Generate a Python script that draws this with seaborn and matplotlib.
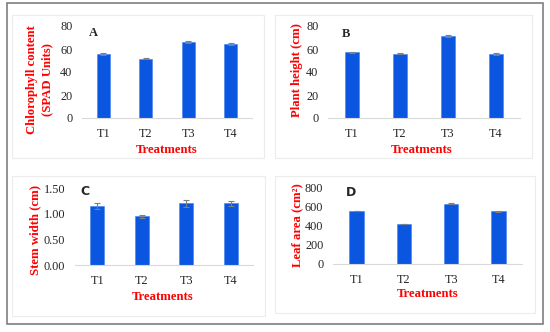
import pandas as pd
import numpy as np
import matplotlib.pyplot as plt
import seaborn as sns
from matplotlib.patches import Rectangle

# 数据
treatments = ['T1', 'T2', 'T3', 'T4']
chlorophyll = [56.0, 51.5, 66.0, 64.5]
chlorophyll_err = [0.8, 0.6, 0.8, 0.7]
plant_height = [57.0, 56.0, 71.0, 55.5]
plant_height_err = [0.7, 0.5, 0.8, 0.8]
stem_width = [1.15, 0.95, 1.20, 1.20]
stem_width_err = [0.05, 0.03, 0.07, 0.05]
leaf_area = [550, 415, 625, 548]
leaf_area_err = [4, 4, 5, 4]

sns.set_style('white')
plt.rcParams['font.family'] = ['Liberation Serif', 'DejaVu Serif']

W, H = 550, 332
fig = plt.figure(figsize=(5.5, 3.32), dpi=100)

def px_axes(x0, y0, x1, y1):
    return fig.add_axes([x0 / W, 1 - y1 / H, (x1 - x0) / W, (y1 - y0) / H])

def px_rect(x0, y0, x1, y1, color, lw):
    fig.add_artist(Rectangle((x0 / W, 1 - y1 / H), (x1 - x0) / W, (y1 - y0) / H,
                             transform=fig.transFigure, fill=False,
                             edgecolor=color, linewidth=lw))

# 外框和子图框
px_rect(7, 3, 543, 324, '#7f7f7f', 1.2)
px_rect(12, 15, 264, 158, '#ececec', 0.8)
px_rect(275, 15, 532, 158, '#ececec', 0.8)
px_rect(12, 176, 265, 316, '#ececec', 0.8)
px_rect(275, 176, 535, 313, '#ececec', 0.8)

panels = [
    # values, err, ylabel, letter, axes px, ylim, step, fmt, letter pos, ylabel pos, xlabel pos
    (chlorophyll, chlorophyll_err, 'Chlorophyll content\n(SPAD Units)', 'A',
     (82, 26, 252, 118), 80, 20, '%d', (0.04, 0.92), (-0.25, 0.42), (0.5, -0.35)),
    (plant_height, plant_height_err, 'Plant height (cm)', 'B',
     (328, 26, 520, 118), 80, 20, '%d', (0.07, 0.91), (-0.16, 0.52), (0.49, -0.35)),
    (stem_width, stem_width_err, 'Stem width (cm)', 'C',
     (75, 188, 253, 265), 1.5, 0.5, '%.2f', (0.03, 0.96), (-0.225, 0.45), (0.49, -0.42)),
    (leaf_area, leaf_area_err, 'Leaf area (cm²)', 'D',
     (333, 187, 522, 264), 800, 200, '%d', (0.07, 0.93), (-0.19, 0.5), (0.5, -0.39)),
]

for vals, err, ylab, letter, box, ymax, step, fmt, lpos, ypos, xpos in panels:
    ax = px_axes(*box)
    df = pd.DataFrame({'Treatments': treatments, 'value': vals})
    sns.barplot(data=df, x='Treatments', y='value', color='#0A56E0', width=0.31,
                saturation=1, edgecolor='#3f7ff0', linewidth=0.4, ax=ax)
    ax.errorbar(np.arange(len(vals)), vals, yerr=err, fmt='none',
                ecolor='#7f7f7f', elinewidth=0.8, capsize=2, capthick=0.8)
    ax.set_ylim(0, ymax)
    ax.set_yticks(np.arange(0, ymax + step / 2, step))
    ax.yaxis.set_major_formatter(plt.FormatStrFormatter(fmt))
    ax.set_xlim(-0.5, 3.5)
    sns.despine(ax=ax, left=True)
    ax.spines['bottom'].set_color('#d9d9d9')
    ax.spines['bottom'].set_linewidth(0.8)
    ax.tick_params(axis='both', length=0, labelsize=8.8, pad=7)
    ax.set_xlabel('Treatments', color='#ff0000', fontweight='bold', fontsize=9.2)
    ax.set_ylabel(ylab, color='#ff0000', fontweight='bold', fontsize=9.2,
                  linespacing=1.35)
    ax.xaxis.label.set_va('center')
    ax.yaxis.label.set_va('center')
    ax.xaxis.set_label_coords(*xpos)
    ax.yaxis.set_label_coords(*ypos)
    ax.text(lpos[0], lpos[1], letter, transform=ax.transAxes, fontweight='bold',
            fontsize=9, ha='left', va='center',
            family=['DejaVu Sans'] if letter in 'CD' else None)
    ax.patch.set_alpha(0)

fig.savefig('out.png', dpi=100)
